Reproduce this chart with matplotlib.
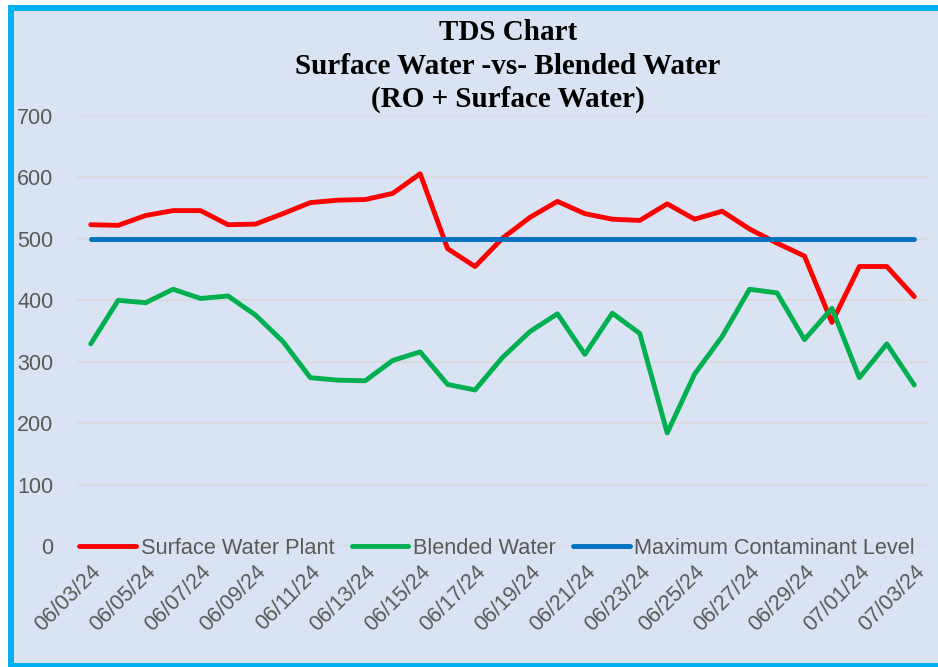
import matplotlib
matplotlib.use("Agg")
import matplotlib.pyplot as plt
from matplotlib.patches import Rectangle

# daily readings 06/03/24 - 07/03/24
dates = ["06/03/24", "06/04/24", "06/05/24", "06/06/24", "06/07/24", "06/08/24",
         "06/09/24", "06/10/24", "06/11/24", "06/12/24", "06/13/24", "06/14/24",
         "06/15/24", "06/16/24", "06/17/24", "06/18/24", "06/19/24", "06/20/24",
         "06/21/24", "06/22/24", "06/23/24", "06/24/24", "06/25/24", "06/26/24",
         "06/27/24", "06/28/24", "06/29/24", "06/30/24", "07/01/24", "07/02/24",
         "07/03/24"]
surface_water = [523, 522, 538, 546, 546, 523, 524, 541, 559, 563, 564, 574,
                 606, 484, 455, 501, 535, 561, 541, 532, 530, 557, 532, 545,
                 516, 493, 472, 364, 455, 455, 406]
blended_water = [329, 400, 396, 418, 403, 407, 376, 333, 274, 270, 269, 302,
                 316, 263, 254, 307, 349, 378, 312, 379, 346, 184, 280, 341,
                 418, 412, 336, 387, 274, 329, 262]
mcl = [500] * len(dates)

title_lines = ["TDS Chart", "Surface Water -vs- Blended Water", "(RO + Surface Water)"]

W, H = 938, 667
fig = plt.figure(figsize=(W / 100, H / 100), dpi=100)
fig.patch.set_facecolor("white")

# chart area background + cyan frame (right edge is cut off in the original)
fig.add_artist(Rectangle((11 / W, 1 - 666 / H), (980 - 11) / W, (666 - 8) / H,
                         transform=fig.transFigure, facecolor="#DAE3F3",
                         edgecolor="#00B0F0", linewidth=4.3, zorder=0))

ax = fig.add_axes([77 / W, 1 - 546 / H, (928 - 77) / W, (546 - 116) / H])
ax.set_facecolor("none")

x = list(range(len(dates)))
ax.plot(x, surface_water, color="#FF0000", lw=3.5, solid_capstyle="round",
        solid_joinstyle="round", label="Surface Water Plant", zorder=3)
ax.plot(x, blended_water, color="#00B050", lw=3.5, solid_capstyle="round",
        solid_joinstyle="round", label="Blended Water", zorder=3)
ax.plot(x, mcl, color="#0070C0", lw=3.5, solid_capstyle="round",
        label="Maximum Contaminant Level", zorder=3)

ax.set_xlim(-0.5, len(dates) - 0.5)
ax.set_ylim(0, 700)
ax.set_yticks(range(0, 701, 100))
ax.grid(axis="y", color="#D9D9D9", lw=1.2, zorder=1)
for s in ax.spines.values():
    s.set_visible(False)

txt = dict(family=["Liberation Sans", "DejaVu Sans"], size=15.5, color="#595959")
ax.set_yticklabels([str(v) for v in range(0, 701, 100)], **txt)
ax.set_xticks(x[::2])
ax.set_xticklabels(dates[::2], rotation=45, ha="right", va="top",
                   rotation_mode="anchor", **txt)
ax.tick_params(axis="y", length=0, pad=17)
ax.tick_params(axis="x", length=0, pad=11)

for i, line in enumerate(title_lines):
    fig.text(508 / W, 1 - (40 + 33.5 * i) / H, line, ha="center", va="baseline",
             family=["Liberation Serif", "DejaVu Serif"], weight="bold", size=21,
             color="black")

fig.legend(loc="center", bbox_to_anchor=(497 / W, 1 - 548 / H), ncol=3,
           frameon=False, handlelength=2.6, handletextpad=0.2, columnspacing=0.8,
           prop={"family": ["Liberation Sans", "DejaVu Sans"], "size": 15.7},
           labelcolor="#595959")

fig.savefig("out.png", dpi=100)
